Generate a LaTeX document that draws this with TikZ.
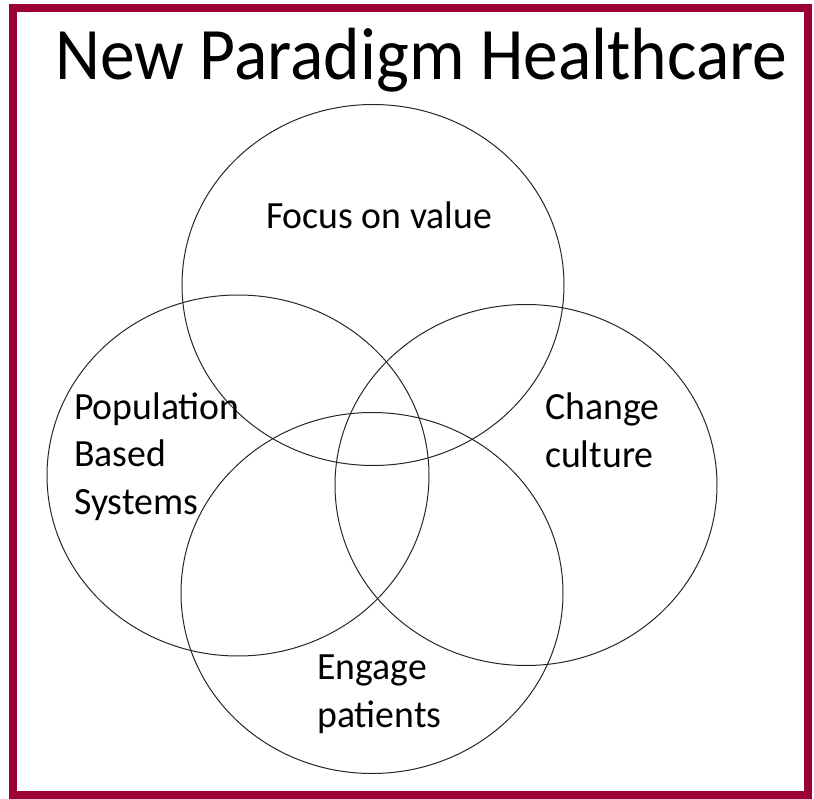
\documentclass[tikz,border=0pt]{standalone}
\usepackage{fontspec}
\setmainfont{Carlito}
\usepackage{tikz}
\usetikzlibrary{positioning,shapes,shapes.geometric}
\definecolor{Frame}{RGB}{155,0,55}

\begin{document}
\begin{tikzpicture}[
		x=1pt, y=-1pt,
		every text node part/.style={align=left},
		venn/.style={draw=black!85, line width=1pt, ellipse, inner sep=0pt,
			minimum width=382pt, minimum height=361pt},
		label/.style={inner sep=0pt, xscale=0.98, transform shape, font=\fontsize{38.5}{47.5}\selectfont},
		title/.style={inner sep=0pt, xscale=0.94, transform shape, font=\fontsize{74}{90}\selectfont}
	]
	\useasboundingbox (0,0) rectangle (814,799);
	\draw[Frame, line width=8pt] (13,8) rectangle (808,795);

	\node(title)[title, anchor=base west] at (55,80) {New Paradigm Healthcare};

	% the four circles
	\node(value)[venn] at (373,285) {};
	\node(population)[venn] at (238,475.5) {};
	\node(culture)[venn] at (526,485) {};
	\node(patients)[venn] at (372,593) {};

	% labels (base = last line)
	\node(valuetext)[label, anchor=base] at (379,229) {Focus on value};
	\node(populationtext)[label, anchor=base west] at (74,514) {Population\\Based\\Systems};
	\node(culturetext)[label, anchor=base west] at (545,467) {Change\\culture};
	\node(patientstext)[label, anchor=base west] at (317,727) {Engage\\patients};
\end{tikzpicture}
\end{document}
